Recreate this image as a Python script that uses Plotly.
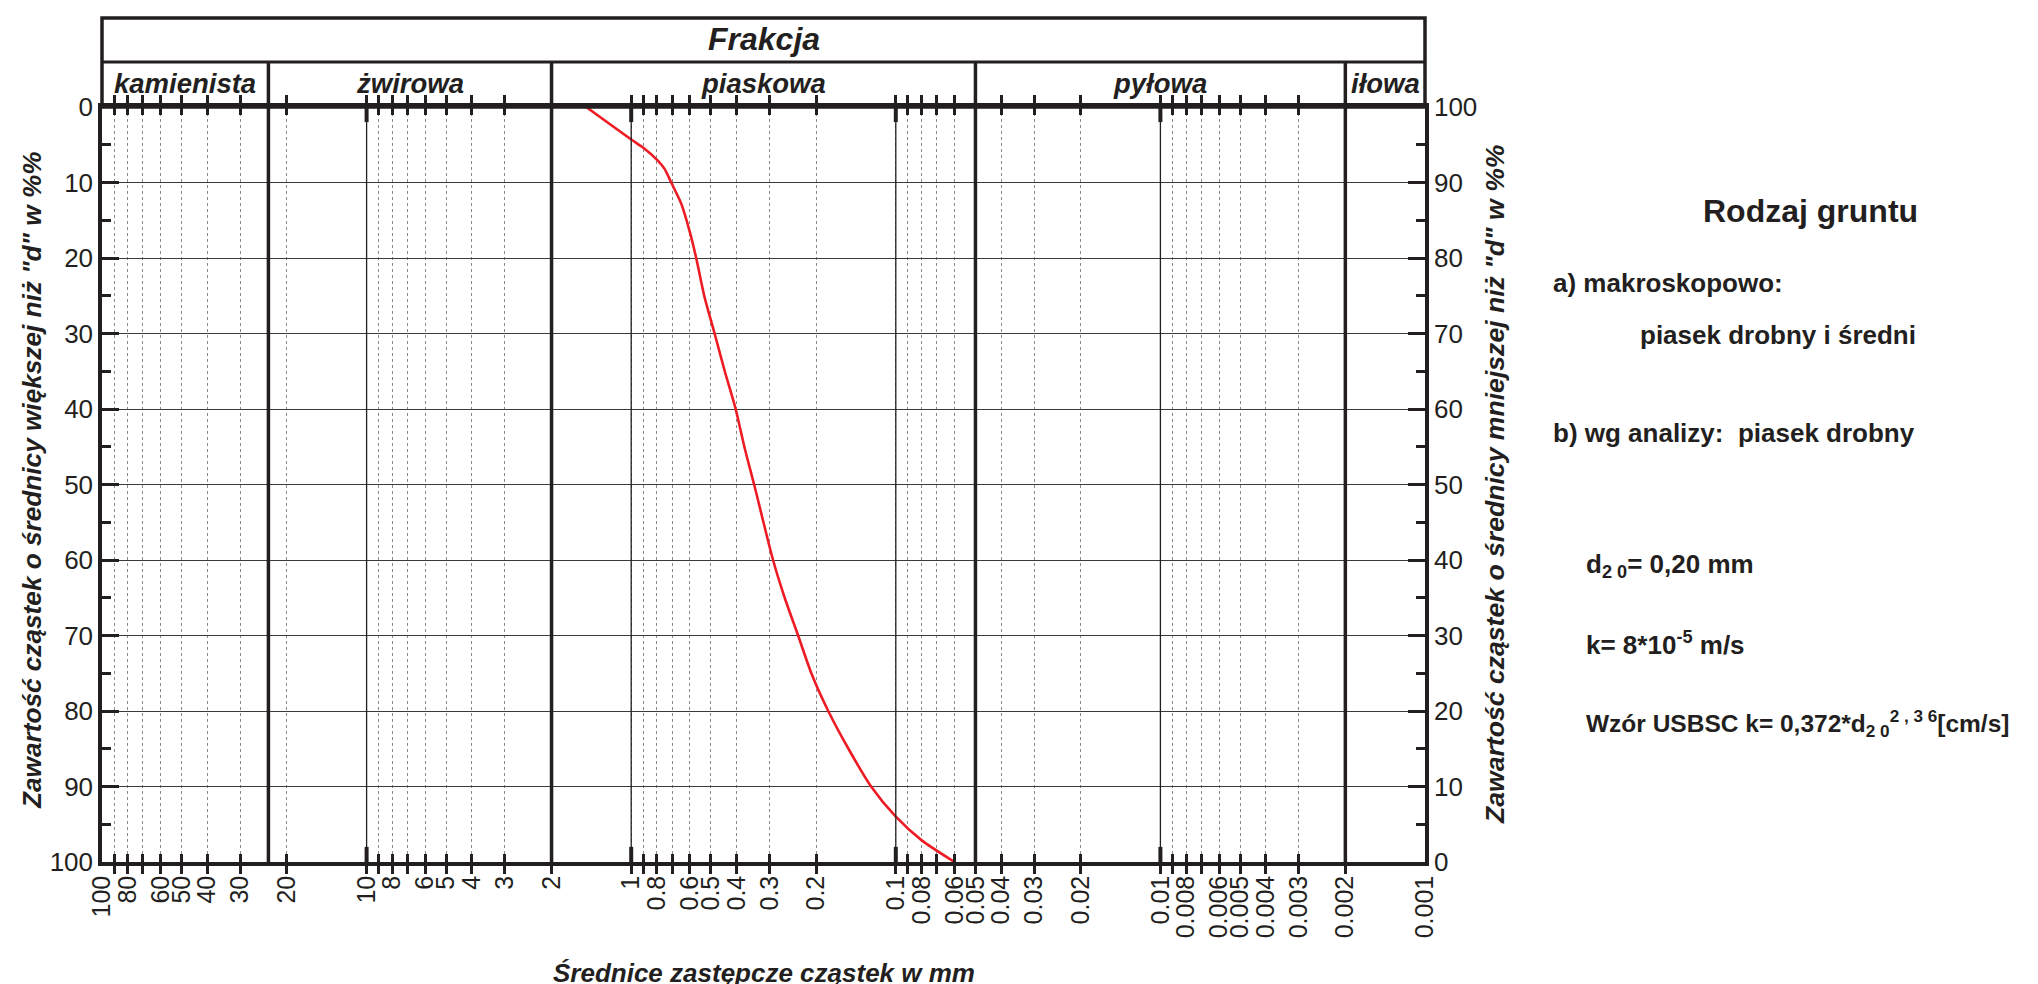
import math
import plotly.graph_objects as go

# ---------------- data ----------------
diam_mm = [1.48, 1.0, 0.9, 0.793, 0.748, 0.706, 0.647, 0.602, 0.568, 0.528,
           0.484, 0.443, 0.403, 0.373, 0.342, 0.291, 0.263, 0.234, 0.208, 0.180,
           0.151, 0.124, 0.100, 0.080, 0.060]
finer_pct = [100, 95.7, 94.6, 92.9, 91.8, 90, 87.2, 83.6, 80, 74.8,
             70, 65, 60, 54.9, 49.8, 40, 35, 30, 24.9, 20,
             15, 10, 6, 2.9, 0]

x_tick_vals = [100, 90, 80, 70, 60, 50, 40, 30, 20, 10, 9, 8, 7, 6, 5, 4, 3, 2,
               1, 0.9, 0.8, 0.7, 0.6, 0.5, 0.4, 0.3, 0.2,
               0.1, 0.09, 0.08, 0.07, 0.06, 0.05, 0.04, 0.03, 0.02,
               0.01, 0.009, 0.008, 0.007, 0.006, 0.005, 0.004, 0.003, 0.002, 0.001]
x_tick_text = ["100", "", "80", "", "60", "50", "40", "30", "20", "10", "", "8", "", "6", "5", "4", "3", "2",
               "1", "", "0.8", "", "0.6", "0.5", "0.4", "0.3", "0.2",
               "0.1", "", "0.08", "", "0.06", "0.05", "0.04", "0.03", "0.02",
               "0.01", "", "0.008", "", "0.006", "0.005", "0.004", "0.003", "0.002", "0.001"]

decades_mm = [10, 1, 0.1, 0.01]
fraction_edges_mm = [100, 23.5, 2, 0.05, 0.002, 0.001]
fraction_names = ["kamienista", "żwirowa", "piaskowa", "pyłowa", "iłowa"]

# ---------------- layout geometry (pixels) ----------------
W, H = 2038, 984
L, R, T, B = 94, 621, 99, 130
PW = W - L - R
PH = H - T - B
INK = "#231f20"
FONT = "Liberation Sans, Arial, sans-serif"


def px_x(px):
    return (px - L) / PW


def px_y(py):
    return (T + PH - py) / PH


fig = go.Figure()

fig.add_trace(go.Scatter(
    x=diam_mm, y=finer_pct, yaxis="y2", mode="lines",
    line=dict(color="#ed1c24", width=2.6, shape="spline", smoothing=0.7),
    showlegend=False, hoverinfo="skip"))

# ---------------- shapes ----------------
shapes = []
head_top = px_y(10)
head_mid = px_y(54)
shapes.append(dict(type="rect", xref="paper", yref="paper", x0=0, x1=1, y0=1, y1=head_top,
                   line=dict(color=INK, width=3.5), layer="above"))
shapes.append(dict(type="line", xref="paper", yref="paper", x0=0, x1=1, y0=head_mid, y1=head_mid,
                   line=dict(color=INK, width=3)))
for d in decades_mm:
    shapes.append(dict(type="line", xref="x", yref="y", x0=d, x1=d, y0=0, y1=100,
                       line=dict(color=INK, width=1.3), layer="above"))
    shapes.append(dict(type="line", xref="x", yref="y", x0=d, x1=d, y0=100, y1=98,
                       line=dict(color=INK, width=4), layer="above"))
    shapes.append(dict(type="line", xref="x", yref="y", x0=d, x1=d, y0=0, y1=2,
                       line=dict(color=INK, width=4), layer="above"))
for e in fraction_edges_mm[1:-1]:
    shapes.append(dict(type="line", xref="x", yref="paper", x0=e, x1=e, y0=0, y1=head_mid,
                       line=dict(color=INK, width=3.5), layer="above"))

# ---------------- annotations ----------------
ann = []
ann.append(dict(text="Frakcja", xref="paper", yref="paper", x=0.5, y=px_y(31),
                showarrow=False, xanchor="center", yanchor="middle",
                font=dict(size=32, color=INK, family=FONT, weight="bold", style="italic")))
for i, name in enumerate(fraction_names):
    a, b = fraction_edges_mm[i], fraction_edges_mm[i + 1]
    ann.append(dict(text=name, xref="x", yref="paper",
                    x=(math.log10(a) + math.log10(b)) / 2, y=px_y(76),
                    showarrow=False, xanchor="center", yanchor="middle",
                    font=dict(size=27.5, color=INK, family=FONT, weight="bold", style="italic")))

ann.append(dict(text="Średnice zastępcze cząstek w mm", xref="paper", yref="paper",
                x=0.5, y=px_y(965), showarrow=False, xanchor="center", yanchor="middle",
                font=dict(size=26, color=INK, family=FONT, weight="bold", style="italic")))
ann.append(dict(text='Zawartość cząstek o średnicy większej niż "d" w %%', xref="paper", yref="paper",
                x=px_x(24), y=px_y(472), textangle=-90, showarrow=False,
                xanchor="center", yanchor="middle",
                font=dict(size=26.2, color=INK, family=FONT, weight="bold", style="italic")))
ann.append(dict(text='Zawartość cząstek o średnicy mniejszej niż "d" w %%', xref="paper", yref="paper",
                x=px_x(1487), y=px_y(477), textangle=-90, showarrow=False,
                xanchor="center", yanchor="middle",
                font=dict(size=26.6, color=INK, family=FONT, weight="bold", style="italic")))

side_font = dict(size=26, color=INK, family=FONT, weight="bold")
ann.append(dict(text="Rodzaj gruntu", xref="paper", yref="paper", x=px_x(1803), y=px_y(203),
                showarrow=False, xanchor="center", yanchor="middle",
                font=dict(size=32, color=INK, family=FONT, weight="bold")))
side_texts = [
    ("a) makroskopowo:", 1543, 275, 26),
    ("piasek drobny i średni", 1630, 327, 26),
    ("b) wg analizy:  piasek drobny", 1543, 425, 26),
    ("d<sub>2 0</sub>= 0,20 mm", 1576, 557, 26),
    ("k= 8*10<sup>-5</sup> m/s", 1576, 635, 26),
    ("Wzór USBSC k= 0,372*d<sub>2 0</sub><sup>2 , 3 6</sup>[cm/s]", 1576, 715, 24.5),
]
for txt, xx, yy, fs in side_texts:
    ann.append(dict(text=txt, xref="paper", yref="paper", x=px_x(xx), y=px_y(yy),
                    showarrow=False, xanchor="left", yanchor="middle",
                    font=dict(size=fs, color=INK, family=FONT, weight="bold")))

axis_common = dict(showline=True, linewidth=3.5, linecolor=INK, zeroline=False,
                   tickcolor=INK)

fig.update_layout(
    width=W, height=H,
    margin=dict(l=L, r=R, t=T, b=B, pad=0),
    paper_bgcolor="white", plot_bgcolor="white",
    font=dict(family=FONT, color=INK),
    showlegend=False,
    xaxis=dict(type="log", range=[math.log10(100), math.log10(0.001)],
               tickmode="array", tickvals=x_tick_vals, ticktext=x_tick_text,
               tickangle=-90, ticks="inside", ticklen=8, tickwidth=3,
               tickfont=dict(size=25, color=INK, family=FONT),
               mirror="allticks", showgrid=True, gridcolor="#8a8a8a", griddash="dot",
               gridwidth=1, automargin=False, **axis_common),
    yaxis=dict(range=[100, 0], tickmode="linear", tick0=0, dtick=10,
               ticks="inside", ticklen=17, tickwidth=3,
               tickfont=dict(size=26, color=INK, family=FONT),
               minor=dict(dtick=5, ticks="inside", ticklen=9, tickwidth=3, tickcolor=INK, showgrid=False),
               showgrid=True, gridcolor="#3a3a3a", gridwidth=1, automargin=False, **axis_common),
    yaxis2=dict(range=[0, 100], overlaying="y", side="right", tickmode="linear", tick0=0, dtick=10,
                ticks="inside", ticklen=17, tickwidth=3,
                tickfont=dict(size=26, color=INK, family=FONT),
                minor=dict(dtick=5, ticks="inside", ticklen=9, tickwidth=3, tickcolor=INK, showgrid=False),
                showgrid=False, automargin=False, **axis_common),
    shapes=shapes,
    annotations=ann,
)

fig.write_html("out.html")
